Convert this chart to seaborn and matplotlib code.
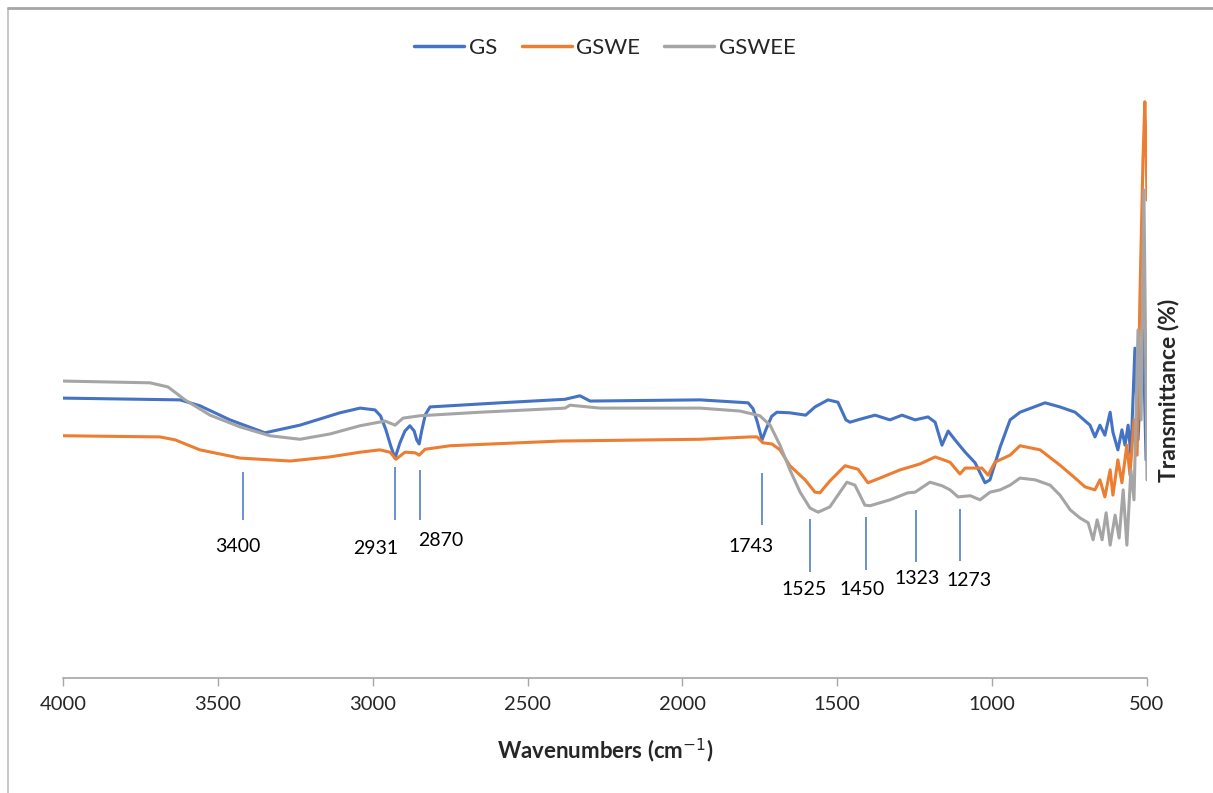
import matplotlib
matplotlib.use("Agg")
import matplotlib.pyplot as plt
from matplotlib.lines import Line2D
import seaborn as sns
import pandas as pd
import numpy as np

# ---- data ----
gs_wn = [4000, 3622, 3558, 3461, 3348, 3235, 3106, 3041, 2993, 2975, 2958, 2942, 2928, 2912,
         2896, 2880, 2866, 2858, 2850, 2842, 2830, 2815, 2589, 2379, 2331, 2298, 1943, 1788,
         1772, 1758, 1743, 1730, 1712, 1695, 1653,
         1602, 1572, 1530, 1498, 1472, 1459, 1427, 1378, 1330, 1291, 1249, 1207, 1184, 1162,
         1142, 1120, 1087, 1055, 1023, 1007, 974, 942, 910, 829, 781, 732, 684, 668, 652, 636,
         619, 610, 594, 581, 571, 561, 552, 539, 529, 513, 503]
gs_t = [47.6, 47.3, 46.3, 43.9, 41.7, 43.0, 45.1, 45.9, 45.6, 44.6, 42.3, 39.5, 37.4, 40.0,
        42.0, 42.9, 42.0, 40.5, 39.8, 42.0, 44.8, 46.1, 46.8, 47.4, 48.0, 47.1, 47.3, 46.8,
        45.8, 43.5, 40.5, 42.3, 44.5, 45.2, 45.1,
        44.7, 46.1, 47.3, 46.9, 43.9, 43.5, 44.0, 44.7, 43.9, 44.7, 43.9, 44.4, 43.5, 39.6,
        42.0, 40.5, 38.4, 36.6, 33.2, 33.7, 39.3, 43.9, 45.2, 46.8, 46.1, 45.2, 43.0, 41.0,
        43.0, 41.3, 45.2, 41.8, 38.8, 42.2, 39.6, 43.0, 37.9, 56.1, 40.5, 59.2, 37.1]

gswe_wn = [4000, 3687, 3638, 3558, 3428, 3267, 3138, 3041, 2977, 2944, 2925, 2896, 2863, 2850,
           2831, 2750, 2395, 1943, 1782, 1759, 1740, 1711, 1685, 1653, 1604, 1572, 1556, 1524,
           1475, 1433, 1401, 1362, 1297, 1233, 1184, 1136, 1104, 1087, 1033, 1013, 991, 942,
           910, 845, 781, 732, 700, 668, 652, 636, 619, 610, 594, 581, 565, 555, 542, 532, 523,
           513, 507, 503, 500]
gswe_t = [41.2, 41.0, 40.5, 38.8, 37.4, 36.9, 37.6, 38.4, 38.8, 38.4, 37.2, 38.4, 38.3, 37.9,
          38.9, 39.5, 40.3, 40.6, 41.0, 41.0, 40.0, 39.8, 38.8, 36.1, 33.7, 31.6, 31.5, 33.5,
          36.1, 35.5, 33.2, 34.0, 35.4, 36.4, 37.6, 36.7, 34.7, 35.7, 35.7, 34.5, 36.7, 37.9,
          39.5, 38.8, 36.2, 34.0, 32.5, 32.0, 33.7, 30.8, 35.4, 31.1, 37.1, 33.2, 39.6, 34.5,
          43.9, 37.9, 64.3, 88.1, 98.0, 90.0, 81.3]

gswee_wn = [4000, 3719, 3661, 3606, 3525, 3428, 3332, 3235, 3138, 3041, 2960, 2928, 2902, 2847,
            2654, 2379, 2363, 2266, 1943, 1814, 1750, 1717, 1685, 1653, 1620, 1588, 1562, 1524,
            1498, 1469, 1443, 1411, 1394, 1330, 1272, 1249, 1201, 1162, 1136, 1110, 1071, 1039,
            1007, 974, 942, 910, 861, 813, 781, 748, 716, 690, 674, 661, 645, 632, 619, 603,
            590, 577, 565, 552, 542, 529, 519, 510, 500]
gswee_t = [50.5, 50.2, 49.5, 47.3, 44.7, 42.7, 41.2, 40.6, 41.5, 42.9, 43.7, 43.0, 44.2, 44.6,
           45.2, 45.9, 46.4, 45.9, 45.9, 45.4, 44.6, 43.0, 39.6, 35.4, 31.6, 28.9, 28.2, 29.1,
           31.1, 33.3, 32.8, 29.4, 29.3, 30.3, 31.5, 31.6, 33.3, 32.7, 32.0, 30.8, 31.0, 30.3,
           31.6, 32.0, 32.8, 34.0, 33.7, 32.8, 31.1, 28.6, 27.2, 26.4, 23.5, 26.9, 23.5, 28.1,
           22.6, 27.7, 23.8, 32.0, 22.6, 35.4, 30.3, 59.2, 43.9, 83.0, 33.7]

series_names = ["GS", "GSWE", "GSWEE"]
colors = ["#4472C4", "#ED7D31", "#A5A5A5"]

# peak annotations
peak_labels = ["3400", "2931", "2870", "1743", "1525", "1450", "1323", "1273"]
peak_line_x = [3419, 2928, 2847, 1743, 1588, 1407, 1246, 1104]
peak_line_y0 = [26.9, 26.9, 26.9, 26.0, 18.0, 18.4, 19.7, 19.9]
peak_line_y1 = [35.0, 35.9, 35.4, 34.9, 27.0, 27.4, 28.6, 28.7]
peak_text_x = [3435, 2989, 2779, 1778, 1607, 1420, 1243, 1075]
peak_text_y = [22.4, 22.1, 23.3, 22.3, 15.0, 15.0, 17.0, 16.5]

xticks = [4000, 3500, 3000, 2500, 2000, 1500, 1000, 500]

# ---- build table ----
frames = []
for name, wn, t in [("GS", gs_wn, gs_t), ("GSWE", gswe_wn, gswe_t), ("GSWEE", gswee_wn, gswee_t)]:
    frames.append(pd.DataFrame({"Wavenumber": wn, "T": t, "Sample": name}))
df = pd.concat(frames, ignore_index=True)

sns.set_theme(style="white")
plt.rcParams["font.family"] = ["Lato", "DejaVu Sans"]

W, H = 1213, 793
fig = plt.figure(figsize=(W / 100, H / 100), dpi=100)
ax = fig.add_axes([63 / W, (H - 678) / H, (1147 - 63) / W, (678 - 90) / H])

for name, col in zip(series_names, colors):
    sub = df[df["Sample"] == name]
    sns.lineplot(data=sub, x="Wavenumber", y="T", ax=ax, color=col, lw=2.2,
                 estimator=None, sort=False, label=name)

ax.vlines(peak_line_x, peak_line_y0, peak_line_y1, color="#4472C4", lw=1.1)
for lab, tx, ty in zip(peak_labels, peak_text_x, peak_text_y):
    ax.text(tx, ty, lab, ha="center", va="center", fontsize=14, color="#000000")

ax.set_xlim(4000, 500)
ax.set_ylim(0, 100)
ax.set_xticks(xticks)
ax.set_xticklabels([str(v) for v in xticks], fontsize=14.5)
ax.set_yticks([])
for s in ["left", "right", "top"]:
    ax.spines[s].set_visible(False)
ax.spines["bottom"].set_color("#A6A6A6")
ax.spines["bottom"].set_linewidth(1.2)
ax.tick_params(axis="x", which="major", direction="out", length=6, width=1,
               color="#A6A6A6", pad=7, bottom=True)

ax.set_xlabel("Wavenumbers (cm$^{-1}$)", fontsize=16, fontweight="bold")
ax.xaxis.set_label_coords(0.5, -0.1)
ax.set_ylabel("Transmittance (%)", fontsize=16.5, fontweight="bold")
ax.yaxis.set_label_position("right")
ax.yaxis.set_label_coords(1.01, 0.49)

leg = ax.legend(loc="center", bbox_to_anchor=(0.5, 1 + (90 - 48) / 588), ncol=3,
                frameon=False, fontsize=16, handlelength=2.25, columnspacing=1.1,
                handletextpad=0.2)
for h in leg.get_lines():
    h.set_linewidth(2.5)

# chart-area border (left and top edges)
fig.add_artist(Line2D([8 / W, 8 / W], [0, 1 - 8 / H], transform=fig.transFigure,
                      color="#BFBFBF", lw=1.2))
fig.add_artist(Line2D([8 / W, 1], [1 - 8 / H, 1 - 8 / H], transform=fig.transFigure,
                      color="#A6A6A6", lw=2))

fig.savefig("out.png", dpi=100)
